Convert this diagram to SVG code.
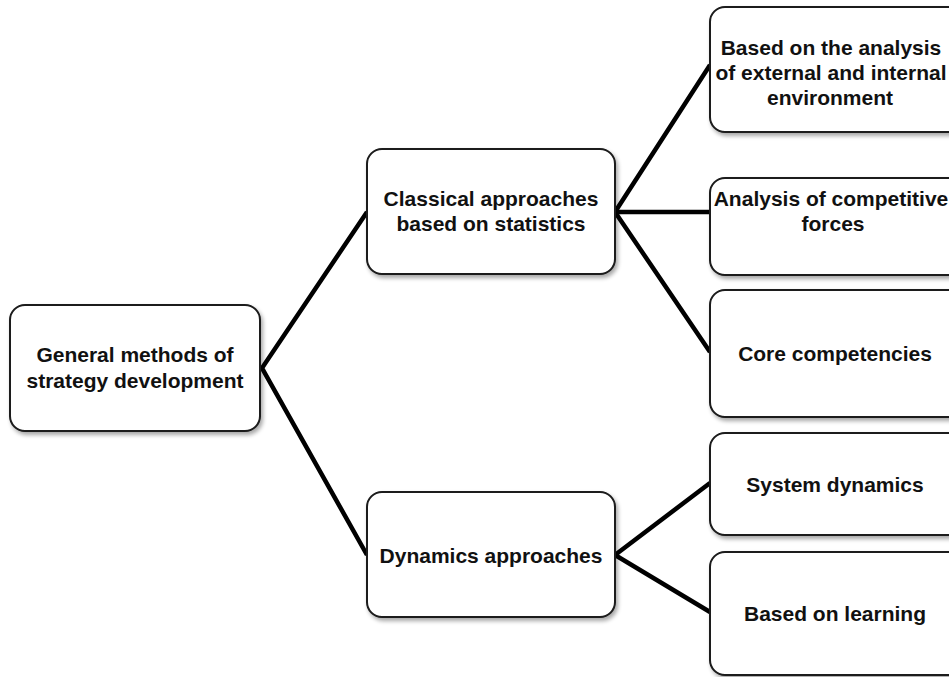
<svg xmlns="http://www.w3.org/2000/svg" width="949" height="677" viewBox="0 0 949 677">
<defs>
<filter id="sh" x="-10%" y="-10%" width="130%" height="130%">
<feGaussianBlur in="SourceAlpha" stdDeviation="2"/>
<feOffset dx="2" dy="3" result="o"/>
<feComponentTransfer><feFuncA type="linear" slope="0.35"/></feComponentTransfer>
<feMerge><feMergeNode/><feMergeNode in="SourceGraphic"/></feMerge>
</filter>
</defs>
<style>
.box{fill:#fff;stroke:#1a1a1a;stroke-width:2;filter:url(#sh)}
.t{font-family:"Liberation Sans",Arial,sans-serif;font-weight:bold;font-size:21px;fill:#111;text-anchor:middle}
.c{stroke:#000;stroke-width:4.5;fill:none;stroke-linejoin:miter}
</style>
<rect width="949" height="677" fill="#fff"/>
<g id="connectors">
<polyline class="c" points="367,212 262,368 367,555"/>
<polyline class="c" points="710,65 615,212 710,352"/>
<line class="c" x1="615" y1="212" x2="710" y2="212"/>
<polyline class="c" points="710,483 615,555 710,612"/>
</g>
<g id="root">
<rect class="box" x="10" y="305" width="250" height="126" rx="15"/>
<text class="t" x="135" y="362">General methods of</text>
<text class="t" x="135" y="388">strategy development</text>
</g>
<g id="classical">
<rect class="box" x="367" y="149" width="248" height="125" rx="15"/>
<text class="t" x="491" y="206">Classical approaches</text>
<text class="t" x="491" y="231">based on statistics</text>
</g>
<g id="dynamics">
<rect class="box" x="367" y="492" width="248" height="125" rx="15"/>
<text class="t" x="491" y="563">Dynamics approaches</text>
</g>
<g id="leaf1">
<rect class="box" x="710" y="7" width="260" height="125" rx="15"/>
<text class="t" x="831" y="55">Based on the analysis</text>
<text class="t" x="831" y="80">of external and internal</text>
<text class="t" x="830" y="105">environment</text>
</g>
<g id="leaf2">
<rect class="box" x="710" y="178" width="260" height="97" rx="15"/>
<text class="t" x="831" y="206">Analysis of competitive</text>
<text class="t" x="833" y="231">forces</text>
</g>
<g id="leaf3">
<rect class="box" x="710" y="290" width="260" height="127" rx="15"/>
<text class="t" x="835" y="361">Core competencies</text>
</g>
<g id="leaf4">
<rect class="box" x="710" y="433" width="260" height="102" rx="15"/>
<text class="t" x="835" y="492">System dynamics</text>
</g>
<g id="leaf5">
<rect class="box" x="710" y="552" width="260" height="123" rx="15"/>
<text class="t" x="835" y="621">Based on learning</text>
</g>
</svg>
